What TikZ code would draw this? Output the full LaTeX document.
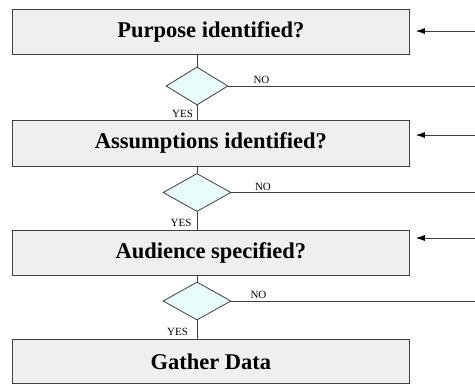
\documentclass[tikz,border=0pt]{standalone}
\usepackage{fontspec}
\setmainfont{Liberation Serif}
\usetikzlibrary{shapes.geometric,arrows.meta}
\definecolor{boxfill}{HTML}{EFEFEF}
\definecolor{diafill}{HTML}{E8FCFC}
\definecolor{ln}{HTML}{404040}
\begin{document}
\begin{tikzpicture}[x=1pt,y=-1pt,
  stepbox/.style={draw=ln,fill=boxfill,line width=0.8pt,minimum width=397pt,inner sep=0pt,font=\fontsize{22.5}{24}\selectfont\bfseries,anchor=north west},
  decision/.style={draw=ln,fill=diafill,line width=0.8pt,diamond,inner sep=0pt,minimum width=64pt,minimum height=38pt},
  conn/.style={draw=ln,line width=0.8pt},
  arr/.style={draw=ln,line width=0.8pt,-{Latex[length=9pt,width=6pt,color=black]},shorten >=6pt},
  lbl/.style={font=\fontsize{11}{12}\selectfont,inner sep=0pt}]
\useasboundingbox (0,0) rectangle (475,384);
\fill[white] (0,0) rectangle (475,384);
% boxes
\node[stepbox,minimum height=45pt] (b1) at (12,9) {Purpose identified?};
\node[stepbox,minimum height=46pt] (b2) at (12,120) {Assumptions identified?};
\node[stepbox,minimum height=45pt] (b3) at (12,230) {Audience specified?};
\node[stepbox,minimum height=44pt] (b4) at (12,339) {Gather Data};
% decisions
\node[decision,minimum width=62pt] (d1) at (197,86) {};
\node[decision,minimum width=68pt] (d2) at (197,192.5) {};
\node[decision,minimum width=68pt] (d3) at (197,301) {};
% right edge coordinates
\coordinate (n1) at (475,86);
\coordinate (n2) at (475,192.5);
\coordinate (n3) at (475,301);
\coordinate (r1) at (475,31);
\coordinate (r2) at (475,135);
\coordinate (r3) at (475,238);
% vertical connectors
\draw[conn] (d1.north) -- (d1.north |- b1.south);
\draw[conn] (d1.south) -- (d1.south |- b2.north);
\draw[conn] (d2.north) -- (d2.north |- b2.south);
\draw[conn] (d2.south) -- (d2.south |- b3.north);
\draw[conn] (d3.north) -- (d3.north |- b3.south);
\draw[conn] (d3.south) -- (d3.south |- b4.north);
% NO lines
\draw[conn] (d1.east) -- (n1);
\draw[conn] (d2.east) -- (n2);
\draw[conn] (d3.east) -- (n3);
% incoming arrows
\draw[arr] (r1) -- (b1.east |- r1);
\draw[arr] (r2) -- (b2.east |- r2);
\draw[arr] (r3) -- (b3.east |- r3);
% labels
\node[lbl,anchor=base] (no1) at (261.5,83) {NO};
\node[lbl,anchor=base] (no2) at (263,190) {NO};
\node[lbl,anchor=base] (no3) at (258.5,298) {NO};
\node[lbl,anchor=base] (yes1) at (182.5,117) {YES};
\node[lbl,anchor=base] (yes2) at (181,226) {YES};
\node[lbl,anchor=base] (yes3) at (177.5,335) {YES};
\end{tikzpicture}
\end{document}
